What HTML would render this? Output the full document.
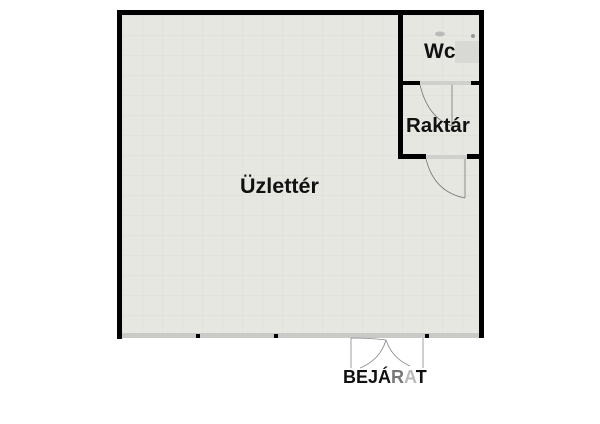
<!DOCTYPE html>
<html><head><meta charset="utf-8"><style>
body{margin:0;background:#fff;width:600px;height:424px;overflow:hidden}
svg{display:block}
text{font-family:"Liberation Sans",sans-serif;font-weight:bold;fill:#111}
</style></head><body>
<svg width="600" height="424" viewBox="0 0 600 424">
<defs>
<pattern id="t" width="20" height="20" patternUnits="userSpaceOnUse" x="122" y="15">
<rect width="20" height="20" fill="#e6e7e0"/>
<path d="M0 0H20M0 0V20" stroke="#dcded6" stroke-width="1"/>
</pattern>
</defs>
<rect x="117" y="10" width="367" height="328" fill="url(#t)"/>
<rect x="117" y="10" width="367" height="5" fill="#000"/>
<rect x="117" y="10" width="5" height="328" fill="#000"/>
<rect x="479" y="10" width="5" height="328" fill="#000"/>
<rect x="398" y="10" width="5" height="149" fill="#000"/>
<rect x="398" y="81" width="22" height="4" fill="#000"/>
<rect x="471" y="81" width="10" height="4" fill="#000"/>
<rect x="398" y="154" width="28" height="5" fill="#000"/>
<rect x="467" y="154" width="13" height="5" fill="#000"/>
<rect x="122" y="333" width="357" height="5" fill="#c9cac6"/>
<rect x="117" y="333" width="5" height="6" fill="#000"/>
<rect x="196" y="334" width="4" height="4" fill="#000"/>
<rect x="274" y="334" width="4" height="4" fill="#000"/>
<rect x="425" y="334" width="4" height="4" fill="#000"/>
<rect x="420" y="81" width="51" height="4" fill="#cfd0cc"/>
<path d="M420 85 Q428 118 452 126 M452 85V126" stroke="#777" fill="none" stroke-width="0.8"/>
<rect x="426" y="155" width="41" height="4" fill="#cfd0cc"/>
<path d="M426 159 Q434 192 465 198 M465 159V198" stroke="#777" fill="none" stroke-width="0.8"/>
<path d="M351 338V368 M423 338V368 M351 338 Q372 338 386 340 M386 340 Q380 360 360 368 M386 340 Q392 358 410 366" stroke="#888" fill="none" stroke-width="0.8"/>
<rect x="455" y="41" width="24" height="22" fill="#d8d9d4"/>
<ellipse cx="440" cy="34" rx="5" ry="2.5" fill="#bbb"/>
<circle cx="473" cy="36" r="2" fill="#999"/>
<text x="424" y="58" font-size="21">Wc</text>
<text x="406" y="132" font-size="20.5">Raktár</text>
<text x="240" y="193" font-size="21.5">Üzlettér</text>
<text x="343" y="383" font-size="18">BEJ<tspan>Á</tspan><tspan fill="#777">R</tspan><tspan fill="#bbb">A</tspan>T</text>
</svg>
</body></html>
